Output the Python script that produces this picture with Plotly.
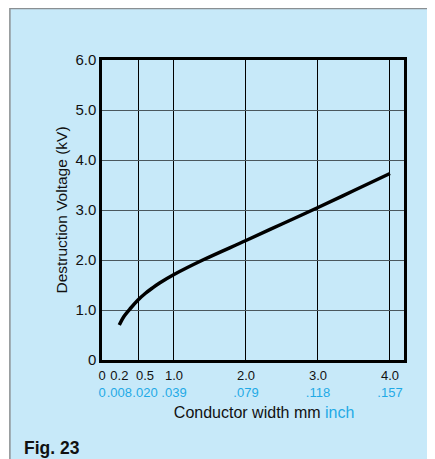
import plotly.graph_objects as go

# curve (conductor width in mm, destruction voltage in kV)
width_mm = [0.24, 0.3, 0.4, 0.5, 0.6, 0.7, 0.8, 1.0, 1.4, 2.0, 2.5, 3.0, 3.5, 4.0]
voltage_kv = [0.70, 0.86, 1.04, 1.20, 1.33, 1.44, 1.54, 1.71, 2.00, 2.39, 2.72, 3.05, 3.39, 3.73]

# axis ticks
x_tick_mm = [0, 0.2, 0.5, 1.0, 2.0, 3.0, 4.0]
x_tick_mm_text = ["0", "0.2", "0.5", "1.0", "2.0", "3.0", "4.0"]
x_tick_inch_text = ["0", ".008", ".020", ".039", ".079", ".118", ".157"]
x_grid_mm = [0.5, 1.0, 2.0, 3.0, 4.0]
y_tick_kv = [0, 1, 2, 3, 4, 5, 6]
y_tick_text = ["0", "1.0", "2.0", "3.0", "4.0", "5.0", "6.0"]

BLUE = "#1fa9e6"
BG = "#c7e9f9"
FONT = "Liberation Sans, Arial, sans-serif"

# the crowded labels near zero are nudged right (pixels)
label_shift = [0, 3, 7, 0, 0, 0, 0]

fig = go.Figure()
fig.add_trace(go.Scatter(
    x=width_mm, y=voltage_kv, mode="lines",
    line=dict(color="black", width=3.5, shape="spline", smoothing=1.0),
    hoverinfo="skip", showlegend=False,
))

xr = [0, 4.195]
layout_axes = {}
n = 2
# overlay axes: one row of mm labels and one row of inch labels per shift
for s in sorted(set(label_shift)):
    idx = [k for k, v in enumerate(label_shift) if v == s]
    for texts, color, gap in [(x_tick_mm_text, "#111", 3), (x_tick_inch_text, BLUE, 20)]:
        ax = dict(range=xr, overlaying="x", side="bottom",
                  tickvals=[x_tick_mm[k] for k in idx],
                  ticktext=[texts[k] for k in idx],
                  ticklabelshift=s, showgrid=False, zeroline=False,
                  ticks="outside", ticklen=gap, tickcolor="rgba(0,0,0,0)",
                  tickfont=dict(size=13, color=color), showline=False,
                  tickangle=0, automargin=False)
        if s == 0 and color == BLUE:
            ax["title"] = dict(text="&nbsp;" * 5 + f"Conductor width mm <span style='color:{BLUE}'>inch</span>",
                               font=dict(size=16), standoff=8)
        layout_axes[f"xaxis{n}"] = ax
        # invisible copy so the label axis gets drawn
        fig.add_trace(go.Scatter(x=width_mm, y=voltage_kv, xaxis=f"x{n}", mode="lines",
                                 line=dict(width=0), opacity=0, hoverinfo="skip",
                                 showlegend=False))
        n += 1

# light blue panel behind everything
fig.add_shape(type="rect", xref="paper", yref="paper",
              x0=-0.305, x1=1.3, y0=-0.6, y1=1.172,
              fillcolor=BG, line=dict(color="#8a8f92", width=1.5), layer="below")

# page body has an 8px margin, so the figure is 8px smaller than the window
fig.update_layout(
    width=427, height=451,
    margin=dict(l=94, r=31, t=52, b=99, autoexpand=False),
    paper_bgcolor="white", plot_bgcolor=BG,
    font=dict(family=FONT, size=13, color="#111"),
    xaxis=dict(range=xr, tickvals=x_grid_mm, showticklabels=False,
               showgrid=True, gridcolor="black", gridwidth=1,
               showline=True, linecolor="black", linewidth=2.5, mirror=True,
               zeroline=False, ticks=""),
    yaxis=dict(range=[0, 6], tickvals=y_tick_kv, ticktext=y_tick_text,
               showgrid=True, gridcolor="#4a575d", gridwidth=1,
               showline=True, linecolor="black", linewidth=2.5, mirror=True,
               zeroline=False, ticks="", tickfont=dict(size=15), automargin=False,
               title=dict(text="Destruction Voltage (kV)", font=dict(size=15.5), standoff=4)),
    annotations=[dict(text="<b>Fig. 23</b>", xref="paper", yref="paper",
                      x=-0.265, y=-0.293, xanchor="left", yanchor="middle",
                      showarrow=False, font=dict(size=17.5, color="#111"))],
    **layout_axes,
)

fig.write_html("out.html")
